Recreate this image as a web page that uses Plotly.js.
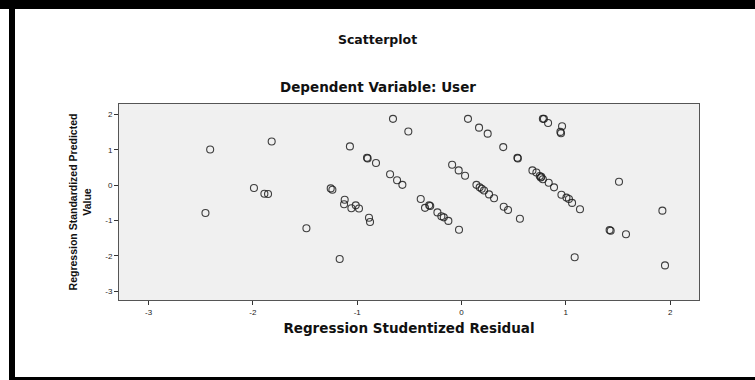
<!DOCTYPE html>
<html>
<head>
<meta charset="utf-8">
<script src="https://cdn.plot.ly/plotly-3.0.1.min.js"></script>
<style>
html,body{margin:0;padding:0;background:#fff;}
#chart{width:755px;height:380px;}
</style>
</head>
<body>
<div id="chart"></div>
<script>
// Regression Studentized Residual (x) and Regression Standardized Predicted Value (y)
const residual = [
  -2.41, -2.455, -1.82, -1.99, -1.89, -1.855, -1.487,
  -0.657, -0.51, -1.07, -0.906, -0.90, -0.82, -0.685, -0.618, -0.567,
  -1.254, -1.238, -1.12, -1.126, -1.056, -1.014, -0.983, -0.887, -0.877, -1.168,
  -0.391, -0.31, -0.30, -0.35, -0.231, -0.193, -0.17, -0.126, -0.024,
  -0.09, -0.027, 0.034, 0.062, 0.168, 0.251, 0.40, 0.536, 0.54,
  0.143, 0.174, 0.194, 0.216, 0.264, 0.312, 0.405, 0.446, 0.56,
  0.78, 0.79, 0.83, 0.964, 0.948, 0.954,
  0.68, 0.718, 0.75, 0.76, 0.765, 0.78, 0.836, 0.887, 0.958, 1.006, 1.03, 1.06, 1.136,
  1.51, 1.926, 1.42, 1.43, 1.577, 1.085, 1.951
];
const predicted = [
  1.01, -0.785, 1.24, -0.08, -0.24, -0.25, -1.22,
  1.88, 1.52, 1.10, 0.78, 0.76, 0.63, 0.31, 0.14, 0.01,
  -0.09, -0.13, -0.41, -0.54, -0.65, -0.57, -0.66, -0.92, -1.04, -2.09,
  -0.39, -0.57, -0.59, -0.64, -0.77, -0.88, -0.91, -1.01, -1.26,
  0.58, 0.42, 0.27, 1.88, 1.63, 1.46, 1.08, 0.78, 0.76,
  0.01, -0.06, -0.10, -0.15, -0.26, -0.37, -0.61, -0.70, -0.95,
  1.88, 1.88, 1.76, 1.67, 1.51, 1.47,
  0.42, 0.36, 0.26, 0.22, 0.24, 0.17, 0.07, -0.06, -0.27, -0.35, -0.39, -0.50, -0.68,
  0.10, -0.72, -1.27, -1.29, -1.39, -2.04, -2.27
];
const xTicks = [-3, -2, -1, 0, 1, 2];
const yTicks = [-3, -2, -1, 0, 1, 2];
const chartTitle = "Scatterplot";
const subTitle = "Dependent Variable: User";
const xTitle = "Regression Studentized Residual";
const yTitle = "Regression Standardized Predicted<br>Value";

const W = 755, H = 380;
const M = {l: 119, r: 56, t: 104, b: 80};
const pw = W - M.l - M.r, ph = H - M.t - M.b;
const px = v => (v - M.l) / pw;          // page px -> paper x
const py = v => (H - M.b - v) / ph;      // page px -> paper y

const fam = "DejaVu Sans, Liberation Sans, Arial, sans-serif";

const trace = {
  type: "scatter",
  mode: "markers",
  x: residual,
  y: predicted,
  marker: {symbol: "circle-open", size: 7, color: "rgba(30,30,30,0.85)", line: {width: 1.1}},
  hoverinfo: "skip",
  showlegend: false
};

const layout = {
  width: W, height: H,
  margin: M,
  paper_bgcolor: "#ffffff",
  plot_bgcolor: "#f0f0f0",
  showlegend: false,
  title: {
    text: chartTitle,
    font: {family: fam, size: 12.5, color: "#111", weight: "bold"},
    x: 0.5, xref: "container", xanchor: "center",
    y: 1 - 40 / H, yref: "container", yanchor: "middle"
  },
  xaxis: {
    range: [-3.284, 2.277],
    tickvals: xTicks,
    ticktext: xTicks.map(String),
    ticks: "outside", ticklen: 4, tickwidth: 1, tickcolor: "#333",
    tickfont: {family: "Liberation Sans, Arial, sans-serif", size: 8, color: "#222"},
    showgrid: false, zeroline: false,
    showline: true, linecolor: "#555", linewidth: 1, mirror: true,
    title: {text: xTitle, font: {family: fam, size: 13.5, color: "#111", weight: "bold"}, standoff: 7}
  },
  yaxis: {
    range: [-3.25, 2.30],
    tickvals: yTicks,
    ticktext: yTicks.map(String),
    ticks: "outside", ticklen: 4, tickwidth: 1, tickcolor: "#333",
    tickfont: {family: "Liberation Sans, Arial, sans-serif", size: 8, color: "#222"},
    showgrid: false, zeroline: false,
    showline: true, linecolor: "#555", linewidth: 1, mirror: true,
    title: {text: yTitle, font: {family: "Liberation Sans Narrow, Arial Narrow, Liberation Sans, sans-serif", size: 10.5, color: "#111", weight: "bold"}, standoff: 11}
  },
  annotations: [
    {text: subTitle, xref: "paper", yref: "paper", x: px(377.5), y: py(87),
     xanchor: "center", yanchor: "middle", showarrow: false,
     font: {family: fam, size: 13.5, color: "#111", weight: "bold"}}
  ],
  shapes: [
    {type: "rect", xref: "paper", yref: "paper", x0: px(0), x1: px(755), y0: py(0), y1: py(9),
     fillcolor: "#000", line: {width: 0}, layer: "above"},
    {type: "rect", xref: "paper", yref: "paper", x0: px(9), x1: px(15), y0: py(0), y1: py(380),
     fillcolor: "#000", line: {width: 0}, layer: "above"},
    {type: "rect", xref: "paper", yref: "paper", x0: px(9), x1: px(755), y0: py(377), y1: py(380),
     fillcolor: "#000", line: {width: 0}, layer: "above"}
  ]
};

Plotly.newPlot("chart", [trace], layout, {displayModeBar: false, staticPlot: true});
</script>
</body>
</html>
